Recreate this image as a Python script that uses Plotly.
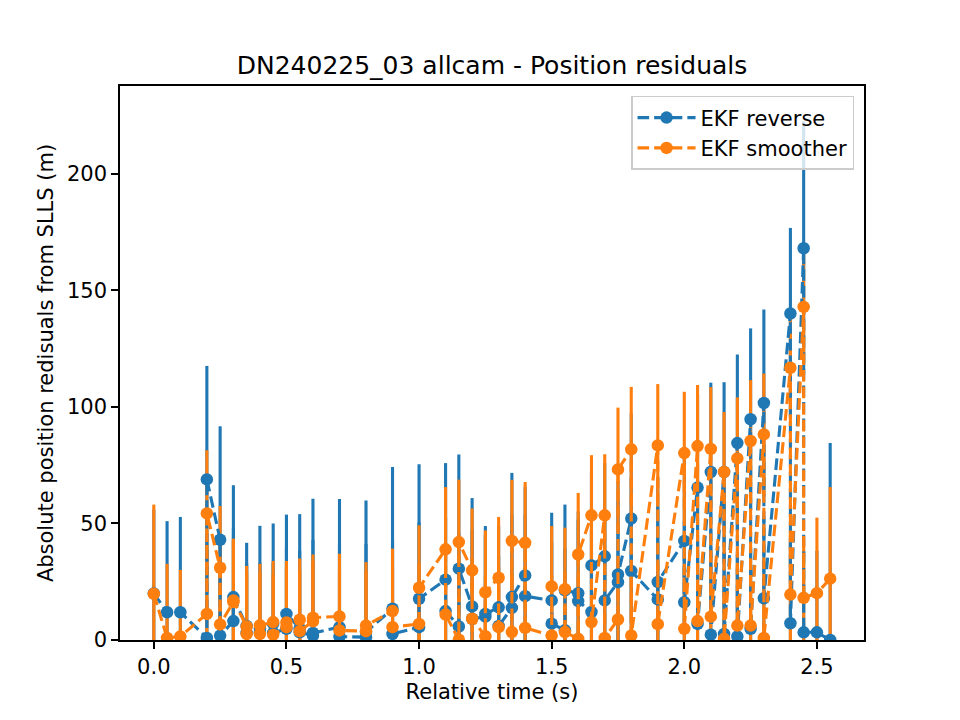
import plotly.graph_objects as go

# ---- data ----
t_rev = [0.00, 0.05, 0.10, 0.20, 0.20, 0.25, 0.25, 0.30, 0.30, 0.35, 0.35, 0.40, 0.40,
         0.45, 0.45, 0.50, 0.50, 0.55, 0.55, 0.60, 0.60, 0.70, 0.70, 0.80, 0.80, 0.90, 0.90,
         1.00, 1.00, 1.10, 1.10, 1.15, 1.15, 1.20, 1.20, 1.25, 1.25, 1.30, 1.30, 1.35, 1.35,
         1.40, 1.40, 1.50, 1.50, 1.55, 1.55, 1.60, 1.60, 1.65, 1.65, 1.70, 1.70, 1.75, 1.75,
         1.80, 1.80, 1.90, 1.90, 2.00, 2.00, 2.05, 2.05, 2.10, 2.10, 2.15, 2.15, 2.20, 2.20,
         2.25, 2.25, 2.30, 2.30, 2.40, 2.40, 2.45, 2.45, 2.50, 2.55]
res_rev = [20.0, 11.9, 11.9, 0.9, 68.9, 43.0, 1.9, 8.1, 18.4, 6.0, 3.0, 3.0, 5.0,
           7.0, 3.0, 4.8, 11.2, 5.0, 3.3, 1.9, 3.0, 5.5, 1.5, 1.2, 3.4, 13.4, 2.6,
           5.5, 17.7, 25.9, 12.4, 5.8, 30.6, 14.4, 9.1, 10.0, 11.2, 14.0, 6.0, 13.8, 18.4,
           27.7, 18.8, 17.0, 7.0, 4.2, 21.3, 20.1, 16.7, 12.0, 32.0, 35.9, 17.0, 24.8, 28.1,
           52.1, 29.6, 17.4, 24.9, 42.5, 16.2, 65.4, 6.9, 72.1, 2.3, 72.1, 2.6, 84.5, 1.5,
           94.7, 4.8, 101.7, 17.9, 140.1, 7.2, 168.1, 3.3, 3.3, 0.0]
err_rev = [36.0, 39.1, 40.9, 40.0, 48.7, 48.7, 40.0, 40.0, 48.0, 35.7, 30.0, 30.0, 44.0,
           43.0, 30.0, 35.0, 42.6, 49.0, 35.0, 58.7, 40.0, 55.0, 40.0, 40.0, 56.5, 60.8, 40.0,
           45.0, 57.7, 50.0, 40.0, 40.0, 49.0, 46.5, 38.0, 35.0, 37.7, 35.0, 30.0, 40.0, 53.3,
           38.0, 35.0, 37.6, 35.0, 35.0, 36.8, 35.0, 35.0, 35.0, 40.0, 40.0, 35.0, 35.0, 40.0,
           45.0, 40.0, 40.0, 45.0, 40.0, 35.0, 40.0, 35.0, 38.3, 35.0, 38.5, 35.0, 38.0, 35.0,
           39.0, 35.0, 40.1, 35.0, 36.7, 35.0, 54.4, 35.0, 35.0, 84.5]

t_smo = [0.00, 0.05, 0.10, 0.20, 0.20, 0.25, 0.25, 0.30, 0.30, 0.35, 0.35, 0.40, 0.40,
         0.45, 0.45, 0.50, 0.50, 0.55, 0.55, 0.60, 0.60, 0.70, 0.70, 0.80, 0.80, 0.90, 0.90,
         1.00, 1.00, 1.10, 1.10, 1.15, 1.15, 1.20, 1.20, 1.25, 1.25, 1.30, 1.30, 1.35, 1.35,
         1.40, 1.40, 1.50, 1.50, 1.55, 1.55, 1.60, 1.60, 1.65, 1.65, 1.70, 1.70, 1.75, 1.75,
         1.80, 1.80, 1.90, 1.90, 2.00, 2.00, 2.05, 2.05, 2.10, 2.10, 2.15, 2.15, 2.20, 2.20,
         2.25, 2.25, 2.30, 2.30, 2.40, 2.40, 2.45, 2.45, 2.50, 2.55]
res_smo = [19.8, 0.9, 1.5, 11.2, 54.3, 31.0, 6.7, 16.3, 17.0, 5.8, 2.6, 2.6, 6.3,
           7.7, 2.3, 5.5, 7.5, 8.7, 3.8, 8.0, 9.6, 10.1, 4.1, 3.8, 6.2, 12.4, 5.5,
           6.9, 22.4, 38.9, 10.9, 0.1, 42.0, 29.9, 9.1, 1.6, 20.5, 26.7, 5.5, 3.4, 42.5,
           41.7, 5.2, 1.9, 23.0, 21.8, 3.4, 0.5, 36.7, 53.5, 7.7, 53.5, 0.9, 8.8, 73.2,
           81.8, 1.9, 83.5, 6.8, 80.2, 4.8, 83.2, 8.1, 82.0, 10.0, 72.1, 0.5, 77.9, 6.2,
           85.4, 6.2, 88.2, 0.9, 116.8, 19.5, 142.9, 18.1, 20.1, 26.3]
err_smo = [38.3, 31.8, 28.6, 26.0, 27.1, 26.5, 26.0, 26.0, 26.5, 26.0, 26.0, 26.0, 26.4,
           26.2, 26.0, 26.0, 26.4, 26.3, 26.0, 26.0, 27.1, 26.9, 26.0, 26.0, 27.2, 26.8, 26.0,
           26.0, 26.8, 26.7, 26.0, 26.0, 26.8, 26.5, 26.0, 26.0, 26.5, 26.1, 26.0, 26.0, 26.2,
           26.1, 26.0, 26.0, 25.9, 26.4, 26.0, 26.0, 26.4, 25.8, 26.0, 26.2, 26.0, 26.0, 26.5,
           26.8, 26.0, 26.3, 26.0, 26.3, 26.0, 26.2, 26.0, 26.5, 26.0, 25.7, 26.0, 26.2, 26.0,
           26.1, 26.0, 26.1, 26.0, 22.0, 26.0, 24.0, 26.0, 32.4, 39.3]

x_ticks = [0.0, 0.5, 1.0, 1.5, 2.0, 2.5]
x_ticklabels = ["0.0", "0.5", "1.0", "1.5", "2.0", "2.5"]
y_ticks = [0, 50, 100, 150, 200]

BLUE = "#1f77b4"
ORANGE = "#ff7f0e"
LW = 3.1
MS = 12.5
DASH = "11.6px,5px"
FONT = "DejaVu Sans"

fig = go.Figure()

# error bars first (below all data lines, as in matplotlib)
for t, r, e, c in [(t_rev, res_rev, err_rev, BLUE), (t_smo, res_smo, err_smo, ORANGE)]:
    fig.add_trace(go.Scatter(
        x=t, y=r, mode="markers",
        marker=dict(size=2, opacity=0, color=c),
        error_y=dict(type="data", array=e, symmetric=True, color=c, thickness=LW, width=0),
        showlegend=False, hoverinfo="skip",
    ))

# data lines with markers
for t, r, c, name in [(t_rev, res_rev, BLUE, "EKF reverse"), (t_smo, res_smo, ORANGE, "EKF smoother")]:
    fig.add_trace(go.Scatter(
        x=t, y=r, mode="lines+markers", name=name,
        line=dict(color=c, width=LW, dash=DASH),
        marker=dict(color=c, size=MS, line=dict(width=0)),
    ))

axis_common = dict(
    showline=True, linecolor="black", linewidth=1.6, mirror=True,
    ticks="outside", ticklen=7, tickwidth=1.6, tickcolor="black",
    showgrid=False, zeroline=False,
    tickfont=dict(family=FONT, size=21, color="black"),
)

fig.update_layout(
    width=960, height=720,
    paper_bgcolor="white", plot_bgcolor="white",
    margin=dict(l=120, r=96, t=86, b=80),
    font=dict(family=FONT, size=21, color="black"),
    title=dict(text="DN240225_03 allcam - Position residuals",
               x=492 / 960, xanchor="center", y=1 - 65 / 720, yanchor="middle",
               font=dict(family=FONT, size=25, color="black")),
    xaxis=dict(range=[-0.1275, 2.6775], tickvals=x_ticks, ticktext=x_ticklabels,
               title=dict(text="Relative time (s)", standoff=6,
                          font=dict(family=FONT, size=21, color="black")),
               **axis_common),
    yaxis=dict(range=[0, 237.7], tickvals=y_ticks,
               title=dict(text="Absolute position redisuals from SLLS (m)", standoff=8,
                          font=dict(family=FONT, size=21, color="black")),
               **axis_common),
    legend=dict(x=0.9866, xanchor="right", y=0.982, yanchor="top",
                bgcolor="rgba(255,255,255,0.8)", bordercolor="#cccccc", borderwidth=1.5,
                font=dict(family=FONT, size=21, color="black"),
                itemwidth=58, tracegroupgap=0),
    showlegend=True,
)

fig.write_html("out.html")
